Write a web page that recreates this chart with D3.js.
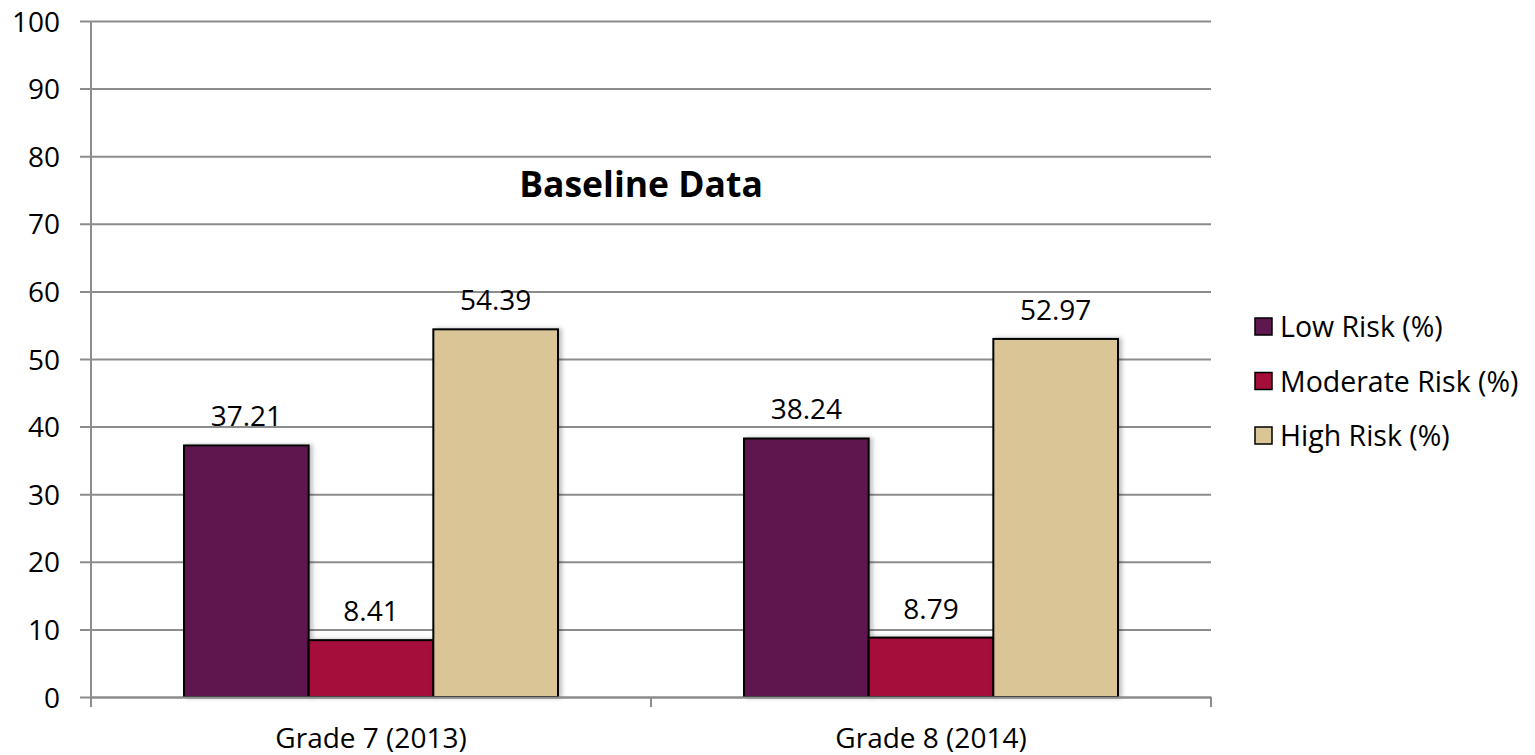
<!DOCTYPE html>
<html>
<head>
<meta charset="utf-8">
<script src="https://cdn.jsdelivr.net/npm/d3@7"></script>
<style>
  html, body { margin: 0; padding: 0; background: #fff; }
  svg { display: block; }
  svg text { font-family: "Open Sans", "Liberation Sans", sans-serif; }
</style>
</head>
<body>
<svg id="chart" width="1535" height="755"></svg>
<script>
// Baseline risk shares per grade
const categories = ["Grade 7 (2013)", "Grade 8 (2014)"];
const seriesNames = ["Low Risk (%)", "Moderate Risk (%)", "High Risk (%)"];
const lowRisk = [37.21, 38.24];
const moderateRisk = [8.41, 8.79];
const highRisk = [54.39, 52.97];
const yTicks = [0, 10, 20, 30, 40, 50, 60, 70, 80, 90, 100];
const colors = ["#5F174F", "#A50D3A", "#DAC597"];

const seriesValues = [lowRisk, moderateRisk, highRisk];
const FONT = '"Open Sans", "Liberation Sans", sans-serif';

const svg = d3.select("#chart");
const plot = { left: 91, right: 1211, top: 21, bottom: 697 };

const y = d3.scaleLinear().domain([0, 100]).range([plot.bottom, plot.top]);
const x0 = d3.scaleBand().domain(categories).range([plot.left, plot.right])
  .paddingInner(0).paddingOuter(0);
const groupPad = 93;
const x1 = d3.scaleBand().domain(seriesNames)
  .range([groupPad, x0.bandwidth() - groupPad]).padding(0);

// drop shadow for bars
const defs = svg.append("defs");
const filt = defs.append("filter").attr("id", "shadow")
  .attr("x", "-10%").attr("y", "-10%").attr("width", "130%").attr("height", "130%");
filt.append("feDropShadow").attr("dx", 3).attr("dy", 0).attr("stdDeviation", 2)
  .attr("flood-color", "#000").attr("flood-opacity", 0.25);

// horizontal gridlines with outside ticks
const yAxis = d3.axisLeft(y).tickValues(yTicks)
  .tickSize(-(plot.right - plot.left)).tickSizeOuter(0);
const gy = svg.append("g").attr("transform", `translate(${plot.left},0)`).call(yAxis)
  .attr("font-family", FONT);
gy.select(".domain").remove();
gy.selectAll(".tick line").attr("stroke", "#8c8c8c").attr("stroke-width", 2)
  .attr("x1", -11);
gy.selectAll(".tick text").attr("font-size", 28).attr("fill", "#000")
  .attr("x", -31).attr("dy", "0.36em");
svg.append("line").attr("x1", plot.left).attr("x2", plot.left)
  .attr("y1", plot.top).attr("y2", plot.bottom + 10)
  .attr("stroke", "#8c8c8c").attr("stroke-width", 2);

// bars
const groups = svg.append("g").selectAll("g").data(categories).join("g")
  .attr("transform", d => `translate(${x0(d)},0)`);

groups.each(function(cat, ci) {
  const g = d3.select(this);
  seriesNames.forEach((s, si) => {
    const v = seriesValues[si][ci];
    g.append("rect")
      .attr("x", x1(s)).attr("width", x1.bandwidth())
      .attr("y", y(v)).attr("height", y(0) - y(v))
      .attr("fill", colors[si]).attr("stroke", "#000").attr("stroke-width", 2)
      .attr("filter", "url(#shadow)");
    g.append("text")
      .attr("x", x1(s) + x1.bandwidth() / 2).attr("y", y(v) - 19)
      .attr("text-anchor", "middle").attr("font-size", 28).attr("fill", "#000")
      .text(v.toFixed(2));
  });
});

// x axis
const xAxis = d3.axisBottom(x0).tickSize(0).tickPadding(0);
const gx = svg.append("g").attr("transform", `translate(0,${plot.bottom})`).call(xAxis)
  .attr("font-family", FONT);
gx.select(".domain").attr("stroke", "#8c8c8c").attr("stroke-width", 2);
gx.selectAll(".tick text").attr("font-size", 28).attr("fill", "#000")
  .attr("y", 51).attr("dy", 0);
[plot.left, plot.left + x0.bandwidth(), plot.right].forEach(px => {
  gx.append("line").attr("x1", px).attr("x2", px).attr("y1", 0).attr("y2", 10)
    .attr("stroke", "#8c8c8c").attr("stroke-width", 2);
});

// title
svg.append("text").attr("x", 641).attr("y", 197).attr("text-anchor", "middle")
  .attr("font-size", 35.5).attr("font-weight", "bold").attr("fill", "#000")
  .text("Baseline Data");

// legend
const legend = svg.append("g").attr("transform", "translate(1255,318)");
seriesNames.forEach((s, i) => {
  const row = legend.append("g").attr("transform", `translate(0,${i * 54.5})`);
  row.append("rect").attr("x", 0).attr("y", 0).attr("width", 17).attr("height", 17)
    .attr("fill", colors[i]).attr("stroke", "#000").attr("stroke-width", 1.5);
  row.append("text").attr("x", 25).attr("y", 19).attr("font-size", 28.5).attr("fill", "#000")
    .text(s);
});
</script>
</body>
</html>
